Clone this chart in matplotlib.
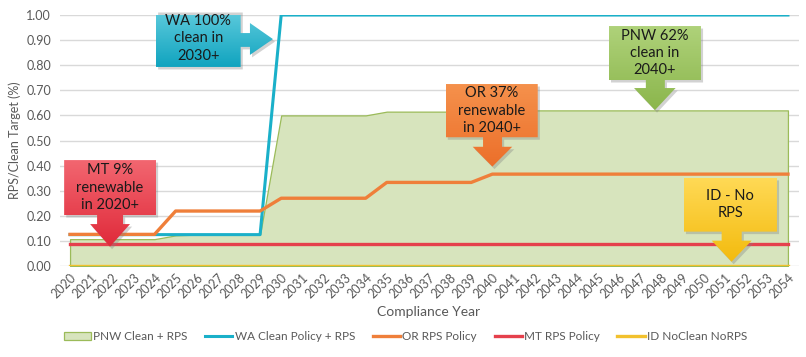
import numpy as np
import matplotlib.pyplot as plt
from matplotlib.patches import Polygon
from matplotlib.colors import LinearSegmentedColormap

plt.rcParams["font.family"] = ["Lato", "DejaVu Sans"]

years = [str(y) for y in range(2020, 2055)]

pnw = [0.107] * 5 + [0.122, 0.125, 0.125, 0.125, 0.125] + [0.60] * 5 + [0.615] * 5 + [0.62] * 15
wa = [0.125] * 10 + [1.00] * 25
orr = [0.126] * 5 + [0.219] * 5 + [0.27] * 5 + [0.333] * 5 + [0.366] * 15
mt = [0.087] * 35
idh = [0.0] * 35

# callouts: text, colours (top, bottom), box (x0, x1, y0, y1), arrow (neck, head, tip)
callouts = [
    ("WA 100%\nclean in\n2030+", "#5ECBDD", "#11A4BF", (4.07, 8.08, 0.793, 1.02), "right",
     (8.52, 0.873, 0.928), (0.841, 0.968), (9.61, 0.904)),
    ("MT 9%\nrenewable\nin 2020+", "#F26670", "#E02A3A", (-0.28, 4.07, 0.203, 0.422), "down",
     (1.28, 2.51, 0.167), (0.95, 2.84), (1.89, 0.077)),
    ("OR 37%\nrenewable\nin 2040+", "#F5914C", "#EC6F2A", (17.79, 22.15, 0.513, 0.725), "down",
     (19.56, 20.46, 0.475), (19.07, 20.94), (20.0, 0.396)),
    ("PNW 62%\nclean in\n2040+", "#AFD27A", "#8BB64C", (25.52, 29.88, 0.741, 0.956), "down",
     (27.27, 28.17, 0.709), (26.71, 28.68), (27.7, 0.621)),
    ("ID - No\nRPS", "#FFD955", "#F3BB0E", (29.07, 33.48, 0.137, 0.351), "down",
     (30.86, 31.81, 0.101), (30.39, 32.28), (31.33, 0.017)),
]

fig = plt.figure(figsize=(8.06, 3.57), dpi=100)
ax = fig.add_axes([59.5 / 806, 1 - 266 / 357, 739 / 806, 251 / 357])

x = np.arange(len(years))
ax.fill_between(x, pnw, color="#D7E4BD", edgecolor="#9BBB59", linewidth=0.9,
                label="PNW Clean + RPS", zorder=2)
ax.plot(x, wa, color="#1AB0C9", lw=2.2, label="WA Clean Policy + RPS", zorder=3)
ax.plot(x, orr, color="#EF7F3A", lw=2.4, label="OR RPS Policy", zorder=4)
ax.plot(x, mt, color="#E5404C", lw=2.4, label="MT RPS Policy", zorder=4)
ax.plot(x, idh, color="#F2C12E", lw=2.4, label="ID NoClean NoRPS", zorder=4)

ax.set_yticks(np.arange(0, 1.01, 0.1))
ax.set_yticklabels([f"{v:.2f}" for v in np.arange(0, 1.01, 0.1)])
ax.set_xticks(x)
ax.set_xticklabels(years, rotation=45, ha="right", rotation_mode="anchor")
ax.tick_params(length=0, labelsize=9, colors="#595959")
ax.tick_params(axis="y", pad=6)
ax.tick_params(axis="x", pad=4)
ax.grid(axis="y", color="#D9D9D9", lw=1)
ax.set_axisbelow(True)
for s in ax.spines.values():
    s.set_visible(False)
ax.set_xlabel("Compliance Year", fontsize=10, color="#595959", labelpad=4)
ax.set_ylabel("RPS/Clean Target (%)", fontsize=9, color="#595959", labelpad=4)

grad = np.linspace(0, 1, 64).reshape(-1, 1)
for text, c_top, c_bot, box, d, neck, head, tip in callouts:
    x0, x1, y0, y1 = box
    if d == "right":
        nx, ny0, ny1 = neck
        hy0, hy1 = head
        pts = [(x0, y0), (x1, y0), (x1, ny0), (nx, ny0), (nx, hy0), tip,
               (nx, hy1), (nx, ny1), (x1, ny1), (x1, y1), (x0, y1)]
    else:
        nx0, nx1, ny = neck
        hx0, hx1 = head
        pts = [(x0, y1), (x1, y1), (x1, y0), (nx1, y0), (nx1, ny), (hx1, ny), tip,
               (hx0, ny), (nx0, ny), (nx0, y0), (x0, y0)]
    shadow = Polygon([(px + 0.1, py - 0.01) for px, py in pts], closed=True,
                     facecolor="#808080", alpha=0.35, edgecolor="none", zorder=6, clip_on=False)
    ax.add_patch(shadow)
    poly = Polygon(pts, closed=True, facecolor="none", edgecolor="none", zorder=7, clip_on=False)
    ax.add_patch(poly)
    ys = [p[1] for p in pts]
    xs = [p[0] for p in pts]
    cmap = LinearSegmentedColormap.from_list("g", [c_top, c_bot])
    im = ax.imshow(grad, cmap=cmap, aspect="auto", origin="upper",
                   extent=(min(xs), max(xs), min(ys), max(ys)), zorder=7)
    im.set_clip_box(None)
    im.set_clip_path(poly)
    ax.text((x0 + x1) / 2, (y0 + y1) / 2, text, ha="center", va="center", fontsize=10.5,
            color="#1A1A1A", linespacing=1.3, zorder=8)

ax.set_xlim(-0.5, len(years) - 0.5)
ax.set_ylim(0, 1.0)

fig.legend(loc="center", bbox_to_anchor=(0.503, 0.057), ncol=5, frameon=False,
           fontsize=8.5, labelcolor="#595959", handlelength=2.3, handletextpad=0.2,
           columnspacing=1.5)

fig.savefig("out.png", dpi=100)
